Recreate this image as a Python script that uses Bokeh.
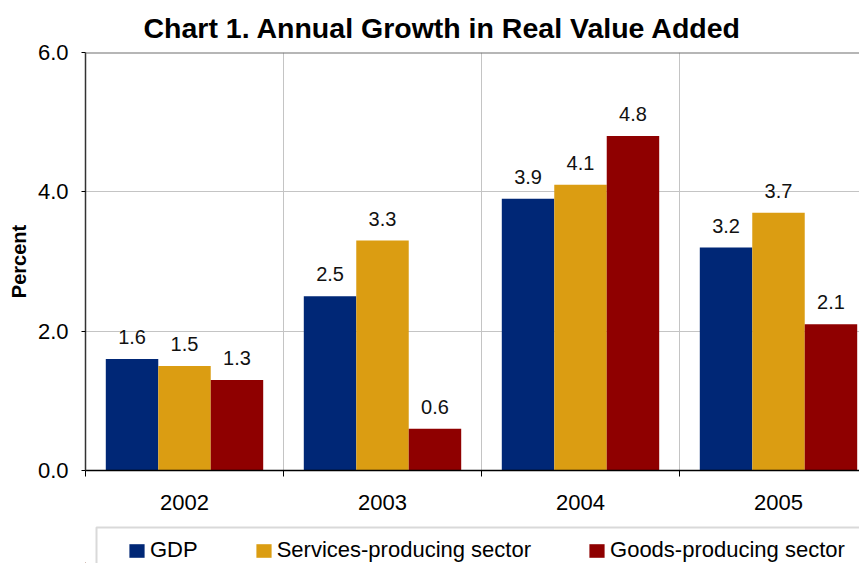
import numpy as np
from bokeh.plotting import figure
from bokeh.layouts import column
from bokeh.models import (ColumnDataSource, Range1d, FixedTicker, Legend, LegendItem,
                          BoxAnnotation, Span, NumeralTickFormatter)
from bokeh.core.properties import value
from bokeh.embed import file_html
from bokeh.resources import INLINE

# ---------------- data ----------------
years = ["2002", "2003", "2004", "2005"]
gdp = [1.6, 2.5, 3.9, 3.2]
services = [1.5, 3.3, 4.1, 3.7]
goods = [1.3, 0.6, 4.8, 2.1]
series_names = ["GDP", "Services-producing sector", "Goods-producing sector"]
series_values = [gdp, services, goods]
colors = ["#002776", "#DB9D12", "#8F0000"]
y_ticks = [0, 2, 4, 6]

FONT = "Liberation Sans"
centers = np.arange(len(years)) + 0.5
bar_w = 0.265
offsets = [-bar_w, 0.0, bar_w]

W = 859          # total width
LEFT = 85        # left border of the frame
CAT_PX = 198     # pixels per category in the reference
p = figure(width=W, height=515, output_backend="svg", toolbar_location=None,
           x_range=Range1d(0, (W - LEFT) / CAT_PX), y_range=Range1d(0, 6),
           min_border_left=LEFT, min_border_right=0, min_border_top=42, min_border_bottom=45,
           title="Chart 1. Annual Growth in Real Value Added")

p.title.text_font = FONT
p.title.text_font_size = "28.5px"
p.title.text_font_style = "bold"
p.title.text_color = "black"
p.title.align = "left"
p.title.offset = 58
p.title.standoff = 18

p.outline_line_color = None
p.background_fill_color = "white"
p.border_fill_color = "white"

# grids
p.xgrid.ticker = FixedTicker(ticks=[1, 2, 3])
p.ygrid.ticker = FixedTicker(ticks=[2, 4])
p.xgrid.grid_line_color = "#c4c4c4"
p.ygrid.grid_line_color = "#c4c4c4"
p.add_layout(Span(location=6, dimension="width", line_color="#6e6e6e", line_width=2))

# x axis
xa = p.xaxis[0]
xa.ticker = FixedTicker(ticks=list(centers), minor_ticks=list(range(len(years) + 1)))
xa.major_label_overrides = {float(c): y for c, y in zip(centers, years)}
xa.major_tick_out = 0
xa.major_tick_in = 0
xa.minor_tick_out = 6
xa.minor_tick_in = 0
xa.minor_tick_line_color = "black"
xa.axis_line_color = "black"
xa.axis_line_width = 1.5
xa.major_label_text_font = FONT
xa.major_label_text_font_size = "22px"
xa.major_label_text_color = "black"
xa.major_label_standoff = 18

# y axis
ya = p.yaxis[0]
ya.ticker = FixedTicker(ticks=y_ticks)
ya.formatter = NumeralTickFormatter(format="0.0")
ya.major_tick_out = 4
ya.major_tick_in = 0
ya.minor_tick_line_color = None
ya.axis_line_color = "#333333"
ya.axis_line_width = 1.5
ya.major_label_text_font = FONT
ya.major_label_text_font_size = "22px"
ya.major_label_text_color = "black"
ya.major_label_standoff = 13
ya.axis_label = "Percent"
ya.axis_label_text_font = FONT
ya.axis_label_text_font_size = "20px"
ya.axis_label_text_font_style = "bold"
ya.axis_label_text_color = "black"
ya.axis_label_standoff = 5

for vals, col, off in zip(series_values, colors, offsets):
    src = ColumnDataSource(dict(x=centers + off, top=vals, label=[f"{v:.1f}" for v in vals]))
    p.vbar(x="x", top="top", width=bar_w, source=src, fill_color=col, line_color=None)
    p.text(x="x", y="top", text="label", source=src, text_align="center",
           text_baseline="alphabetic", y_offset=-22, text_font=value(FONT),
           text_font_size="20px", text_color="#111111")

# ---------------- legend strip ----------------
LH = 48
q = figure(width=W, height=LH, output_backend="svg", toolbar_location=None,
           x_range=Range1d(0, W - LEFT), y_range=Range1d(0, LH),
           x_axis_location=None, y_axis_location=None,
           min_border_left=LEFT, min_border_right=0,
           min_border_top=0, min_border_bottom=0)
q.outline_line_color = None
q.xgrid.visible = False
q.ygrid.visible = False
q.background_fill_color = "white"
q.border_fill_color = "white"

items = []
for name, col in zip(series_names, colors):
    r = q.vbar(x=[-100], top=[1], width=1, fill_color=col, line_color=None)
    items.append(LegendItem(label=name, renderers=[r]))

legend = Legend(items=items, orientation="horizontal", location=(42, 0),
                padding=0, margin=0, spacing=56, glyph_width=19, glyph_height=17,
                label_standoff=4, label_text_font=FONT, label_text_font_size="22px",
                label_text_color="black", border_line_color=None,
                background_fill_alpha=0)
q.add_layout(legend, "center")
q.add_layout(BoxAnnotation(left=11, right=W, top=LH - 12, bottom=-20,
                           fill_alpha=0, line_color="#808080", line_width=2))

layout = column(p, q, spacing=0)
open("out.html", "w").write(file_html(layout, INLINE))
